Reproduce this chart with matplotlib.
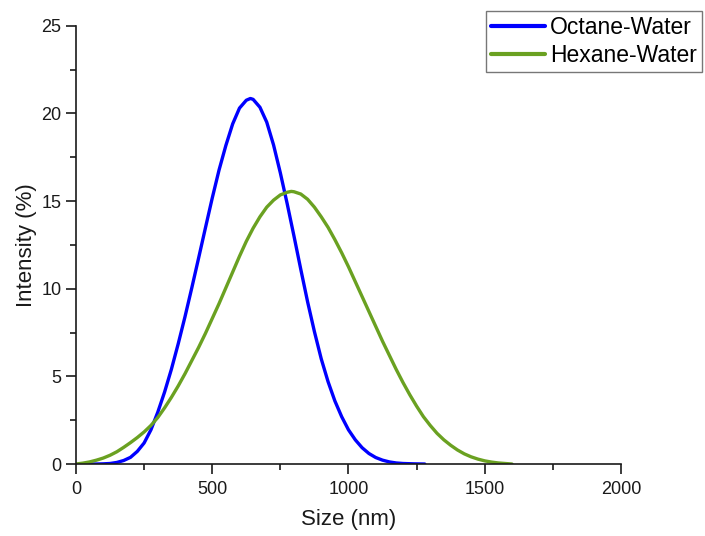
import matplotlib
matplotlib.use("Agg")
import matplotlib.pyplot as plt
from matplotlib.ticker import MultipleLocator

plt.rcParams['font.family'] = ['Liberation Sans', 'DejaVu Sans']

octane_x = [50, 75, 100, 125, 150, 175, 200, 225, 250, 275, 300, 325, 350, 375, 400,
            425, 450, 475, 500, 525, 550, 575, 600, 625, 640, 650, 675, 700, 725, 750,
            775, 800, 825, 850, 875, 900, 925, 950, 975, 1000, 1025, 1050, 1075, 1100,
            1125, 1150, 1175, 1200, 1240, 1280]
octane_y = [0.0, 0.0, 0.01, 0.03, 0.09, 0.2, 0.38, 0.72, 1.2, 1.95, 2.95, 4.1, 5.4, 6.85, 8.4,
            10.05, 11.75, 13.47, 15.17, 16.77, 18.17, 19.4, 20.3, 20.75, 20.85, 20.8, 20.35, 19.5, 18.2, 16.6,
            14.85, 13.0, 11.1, 9.25, 7.55, 6.0, 4.7, 3.6, 2.7, 1.95, 1.38, 0.93, 0.6, 0.37,
            0.22, 0.12, 0.06, 0.03, 0.01, 0.0]

hexane_x = [0, 25, 50, 75, 100, 125, 150, 175, 200, 225, 250, 275, 300, 325, 350, 375,
            400, 425, 450, 475, 500, 525, 550, 575, 600, 625, 650, 675, 700, 725, 750, 775,
            790, 800, 825, 850, 875, 900, 925, 950, 975, 1000, 1025, 1050, 1075, 1100, 1125,
            1150, 1175, 1200, 1225, 1250, 1275, 1300, 1325, 1350, 1375, 1400, 1425, 1450,
            1475, 1500, 1525, 1550, 1575, 1600]
hexane_y = [0.0, 0.05, 0.12, 0.22, 0.34, 0.5, 0.7, 0.95, 1.22, 1.51, 1.83, 2.2, 2.65, 3.2, 3.8, 4.45,
            5.15, 5.9, 6.65, 7.45, 8.3, 9.15, 10.05, 10.95, 11.85, 12.7, 13.45, 14.1, 14.65, 15.05, 15.35, 15.5,
            15.55, 15.53, 15.4, 15.1, 14.65, 14.1, 13.5, 12.8, 12.05, 11.25, 10.4, 9.55, 8.7, 7.85, 7.0,
            6.2, 5.4, 4.65, 3.95, 3.3, 2.7, 2.2, 1.75, 1.38, 1.07, 0.8, 0.58, 0.41,
            0.28, 0.18, 0.11, 0.06, 0.03, 0.0]

labels = ['Octane-Water', 'Hexane-Water']
colors = ['#0000ff', '#6aa121']

fig = plt.figure(figsize=(7.05, 5.36), dpi=100)
ax = fig.add_axes([0.1078, 0.1343, 0.773, 0.8177])

ax.plot(octane_x, octane_y, color=colors[0], lw=2.4, label=labels[0],
        solid_capstyle='round', solid_joinstyle='round')
ax.plot(hexane_x, hexane_y, color=colors[1], lw=2.4, label=labels[1],
        solid_capstyle='round', solid_joinstyle='round')

ax.set_xlim(0, 2000)
ax.set_ylim(0, 25)
ax.xaxis.set_major_locator(MultipleLocator(500))
ax.xaxis.set_minor_locator(MultipleLocator(250))
ax.yaxis.set_major_locator(MultipleLocator(5))
ax.yaxis.set_minor_locator(MultipleLocator(2.5))

for s in ['top', 'right']:
    ax.spines[s].set_visible(False)
for s in ['left', 'bottom']:
    ax.spines[s].set_linewidth(1.2)
    ax.spines[s].set_color('#1a1a1a')

ax.tick_params(which='major', direction='out', length=7, width=1.2, labelsize=13,
               colors='#1a1a1a')
ax.tick_params(which='minor', direction='out', length=4, width=1.2, colors='#1a1a1a')
ax.tick_params(axis='x', which='major', pad=5.5)
ax.tick_params(axis='y', which='major', pad=3.5)

ax.set_xlabel('Size (nm)', fontsize=16, color='#1a1a1a', labelpad=8)
ax.set_ylabel('Intensity (%)', fontsize=16, color='#1a1a1a', labelpad=3)

leg = fig.legend(loc='upper right', bbox_to_anchor=(702/705, 1 - 11/536),
                 fontsize=16.5, frameon=True, fancybox=False, shadow=False,
                 handlelength=2.35, handletextpad=0.22, borderpad=0.22,
                 labelspacing=0.22, borderaxespad=0)
leg.get_frame().set_edgecolor('#555555')
leg.get_frame().set_linewidth(1.0)
for line in leg.get_lines():
    line.set_linewidth(3)

fig.savefig('out.png', dpi=100)
